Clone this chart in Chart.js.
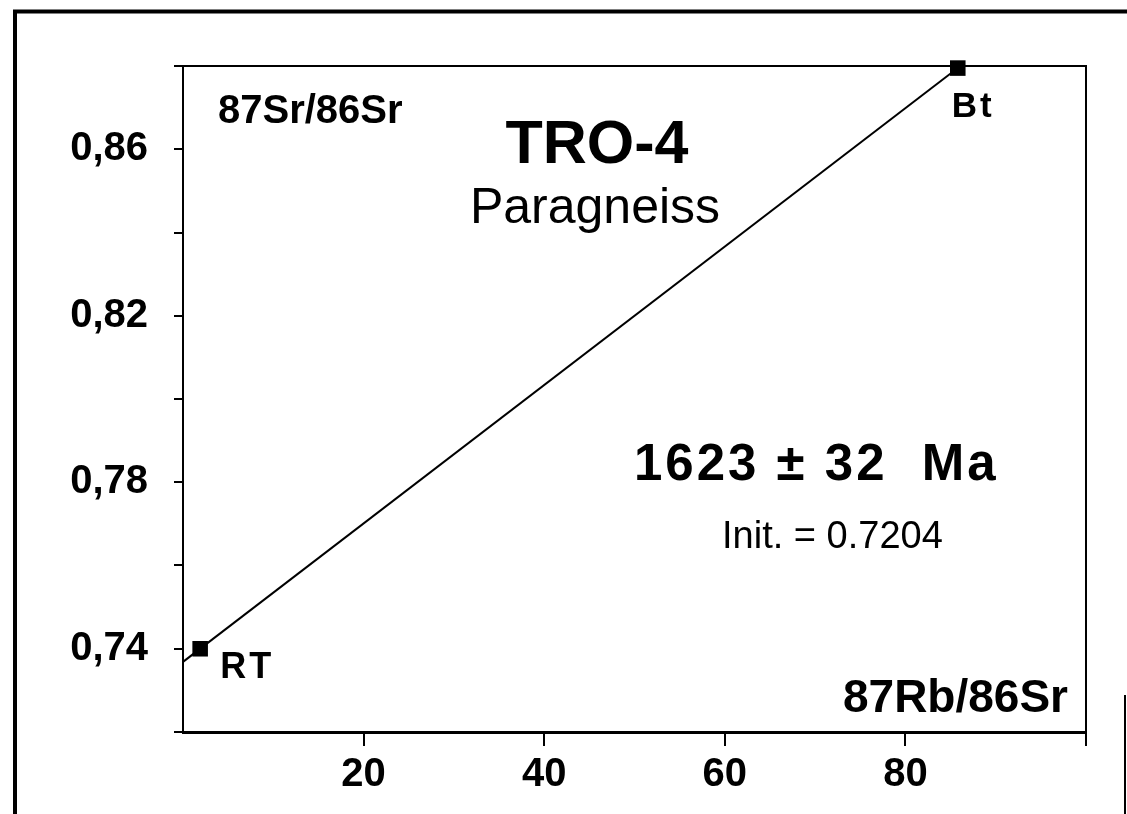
<!DOCTYPE html>
<html>
<head>
<meta charset="utf-8">
<script src="https://cdn.jsdelivr.net/npm/chart.js@4.4.1/dist/chart.umd.min.js"></script>
<style>
  html, body { margin: 0; padding: 0; background: #fff; }
  canvas { display: block; }
</style>
</head>
<body>
<canvas id="isochron" width="1127" height="814"></canvas>
<script>
// data
const sampleNames = ['RT', 'Bt'];
const rbSr = [1.9, 85.8];          // 87Rb/86Sr
const srSr = [0.7400, 0.8795];     // 87Sr/86Sr

// axis ticks
const xTicks = [20, 40, 60, 80, 100];
const xTickLabels = ['20', '40', '60', '80', ''];
const yTicks = [0.72, 0.74, 0.76, 0.78, 0.80, 0.82, 0.84, 0.86, 0.88];
const yLabelValues = [0.74, 0.78, 0.82, 0.86];
const yTickLabels = ['0,74', '0,78', '0,82', '0,86'];

// isochron through the two samples, extended back to the y axis
const slope = (srSr[1] - srSr[0]) / (rbSr[1] - rbSr[0]);
const intercept = srSr[0] - slope * rbSr[0];
const fitLine = [
  { x: 0, y: intercept },
  { x: rbSr[1], y: srSr[1] }
];

const FONT = "'Liberation Sans', Arial, Helvetica, sans-serif";

// frame, box and text labels
const decorations = {
  id: 'decorations',
  afterDraw(chart) {
    const ctx = chart.ctx;
    const area = chart.chartArea;
    ctx.save();

    // outer scanned frame
    ctx.strokeStyle = '#000';
    ctx.lineWidth = 4;
    ctx.beginPath();
    ctx.moveTo(15, 814);
    ctx.lineTo(15, 11.5);
    ctx.lineTo(1127, 11.5);
    ctx.stroke();
    ctx.lineWidth = 2;
    ctx.beginPath();
    ctx.moveTo(1125, 695);
    ctx.lineTo(1125, 814);
    ctx.stroke();

    // top and right side of the plot box
    ctx.lineWidth = 2;
    ctx.beginPath();
    ctx.moveTo(area.left, area.top);
    ctx.lineTo(area.right, area.top);
    ctx.lineTo(area.right, area.bottom);
    ctx.stroke();

    ctx.fillStyle = '#000';
    ctx.textBaseline = 'alphabetic';

    ctx.font = 'bold 40px ' + FONT;
    ctx.textAlign = 'left';
    ctx.fillText('87Sr/86Sr', 218, 123);

    ctx.font = 'bold 61px ' + FONT;
    ctx.textAlign = 'center';
    ctx.fillText('TRO-4', 597, 163);

    ctx.font = '50px ' + FONT;
    ctx.fillText('Paragneiss', 595, 223);

    ctx.textAlign = 'left';
    ctx.font = 'bold 51px ' + FONT;
    ctx.letterSpacing = '3px';
    ctx.fillText('1623 \u00b1 32  Ma', 634, 480);
    ctx.letterSpacing = '0px';

    ctx.font = '38px ' + FONT;
    ctx.fillText('Init. = 0.7204', 722, 548);

    ctx.font = 'bold 46px ' + FONT;
    ctx.textAlign = 'right';
    ctx.fillText('87Rb/86Sr', 1068, 712);

    // sample names next to their points
    const xs = chart.scales.x, ys = chart.scales.y;
    ctx.textAlign = 'left';
    ctx.letterSpacing = '3px';
    ctx.font = 'bold 35px ' + FONT;
    const bx = xs.getPixelForValue(rbSr[1]);
    const by = ys.getPixelForValue(srSr[1]);
    ctx.fillText(sampleNames[1], bx - 6, by + 49);
    ctx.font = 'bold 36px ' + FONT;
    const rx = xs.getPixelForValue(rbSr[0]);
    const ry = ys.getPixelForValue(srSr[0]);
    ctx.fillText(sampleNames[0], rx + 20, ry + 29);
    ctx.letterSpacing = '0px';

    ctx.restore();
  }
};

const ctx = document.getElementById('isochron').getContext('2d');
new Chart(ctx, {
  type: 'scatter',
  data: {
    datasets: [
      {
        label: 'isochron',
        data: fitLine,
        showLine: true,
        borderColor: '#000',
        borderWidth: 2,
        pointRadius: 0,
        clip: false
      },
      {
        label: 'samples',
        data: rbSr.map((x, i) => ({ x: x, y: srSr[i] })),
        pointStyle: 'rect',
        pointRadius: 11,
        backgroundColor: '#000',
        borderColor: '#000',
        borderWidth: 0,
        clip: false
      }
    ]
  },
  options: {
    responsive: false,
    animation: false,
    events: [],
    layout: { padding: { left: 0, top: 66, right: 41, bottom: 0 } },
    plugins: {
      legend: { display: false },
      tooltip: { enabled: false }
    },
    scales: {
      x: {
        type: 'linear',
        min: 0,
        max: 100,
        afterBuildTicks: scale => { scale.ticks = xTicks.map(v => ({ value: v })); },
        afterFit: scale => { scale.height = 82; },
        grid: { drawOnChartArea: false, drawTicks: true, tickLength: 14, color: '#000', lineWidth: 2 },
        border: { display: true, color: '#000', width: 3 },
        ticks: {
          color: '#000',
          padding: 5,
          maxRotation: 0,
          font: { family: FONT, size: 40, weight: 'bold' },
          callback: v => xTickLabels[xTicks.indexOf(v)]
        }
      },
      y: {
        type: 'linear',
        min: 0.72,
        max: 0.88,
        afterBuildTicks: scale => { scale.ticks = yTicks.map(v => ({ value: v })); },
        afterFit: scale => { scale.width = 183; },
        grid: { drawOnChartArea: false, drawTicks: true, tickLength: 9, color: '#000', lineWidth: 2 },
        border: { display: true, color: '#000', width: 2 },
        ticks: {
          color: '#000',
          padding: 26,
          font: { family: FONT, size: 40, weight: 'bold' },
          callback: v => {
            const i = yLabelValues.findIndex(t => Math.abs(t - v) < 1e-6);
            return i >= 0 ? yTickLabels[i] : '';
          }
        }
      }
    }
  },
  plugins: [decorations]
});
</script>
</body>
</html>
